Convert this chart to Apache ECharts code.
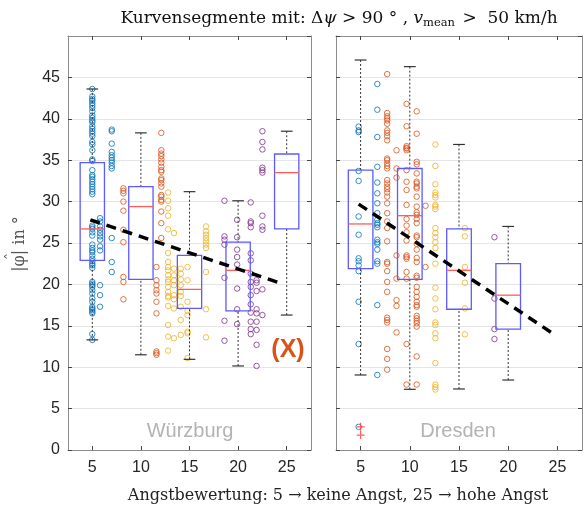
<!DOCTYPE html>
<html>
<head>
<meta charset="utf-8">
<script src="https://cdn.jsdelivr.net/npm/echarts@6/dist/echarts.min.js"></script>
<style>
  html, body { margin: 0; padding: 0; background: #fff; }
  #chart { width: 584px; height: 510px; }
</style>
</head>
<body>
<div id="chart"></div>
<script>
// rating ticks
var ratings = [5, 10, 15, 20, 25];

// Würzburg box statistics (per rating 5..25)
var wLower  = [13.3, 11.5, 10.95, 10.15, 16.3];
var wQ1     = [22.9, 20.6, 17.1, 16.8, 26.7];
var wMedian = [26.7, 29.4, 19.4, 21.7, 33.5];
var wQ3     = [34.7, 31.8, 23.5, 25.1, 35.75];
var wUpper  = [43.6, 38.3, 31.2, 30.1, 38.5];

// Dresden box statistics (per rating 5..20)
var dLower  = [9.06, 7.33, 7.37, 8.45];
var dQ1     = [21.9, 20.6, 17.0, 14.6];
var dMedian = [27.3, 28.3, 21.7, 18.7];
var dQ3     = [33.8, 34.0, 26.7, 22.5];
var dUpper  = [47.1, 46.3, 36.9, 27.0];
var dOutliers = [[5, 2.8], [5, 1.8]];

// trend lines (dashed)
var wTrend = [[4.8, 27.8], [24.5, 20.1]];
var dTrend = [[4.8, 29.7], [24.5, 14.1]];

// single measurements, grouped in columns: [rating, [angles]]
var wBlue = [
  [5, [43.6, 42.7, 42.4, 42.2, 41.9, 41.6, 41.3, 40.9, 40.4, 40.1, 39.8, 39.6, 39.1, 38.8, 38.5, 38.2, 37.9, 37.2, 36.9, 36.2,
       35.1, 34.9, 33.8, 33.2, 33.0, 32.7, 32.4, 32.1, 31.8, 31.5, 31.2, 30.9, 27.1, 26.9, 26.7, 26.3, 25.9, 24.8, 24.4, 24.1,
       23.9, 23.5, 23.1, 22.8, 22.5, 22.3, 22.0, 20.3, 20.1, 19.9, 19.7, 19.3, 18.9, 18.3, 17.9, 17.3, 17.1, 16.9, 16.7, 16.5, 14.0, 13.3]],
  [5.8, [28.0, 27.6, 27.0, 26.6, 26.2, 25.8, 25.4, 24.6, 24.1, 19.9, 18.7, 17.3]],
  [7, [38.7, 38.5, 37.0, 36.0, 35.6, 35.3, 35.0, 34.7, 34.3, 34.0, 25.6, 22.7, 21.5]]
];
var wOrange = [
  [8.2, [31.6, 31.3, 31.0, 30.0, 28.9, 26.6, 25.1, 20.9, 20.3, 18.2]],
  [12.1, [38.3, 36.2, 35.8, 35.5, 35.1, 34.7, 34.2, 33.8, 33.6, 32.8, 32.6, 32.2, 31.8, 30.8, 30.6, 30.2, 30.0, 28.8, 27.4, 25.6]],
  [11.6, [22.1, 20.5, 19.9, 19.3, 18.9, 17.9, 16.5, 11.9, 11.7, 11.5]]
];
var wYellow = [
  [12.8, [31.1, 30.1, 29.2, 28.3, 26.65, 23.8, 22.7, 22.1, 21.7, 21.1, 20.6, 20.3, 19.7, 19.1, 18.6, 18.4, 17.4, 15.1, 13.7, 12.0]],
  [13.4, [26.2, 21.9, 21.1, 20.5, 19.9, 18.7, 18.2, 17.1, 13.5]],
  [14.1, [21.9, 21.3, 20.6, 19.9, 19.1, 18.6, 17.3, 15.7, 13.9]],
  [14.8, [22.1, 20.5, 17.9, 16.8, 16.3, 14.3, 14.1, 11.1]],
  [16.7, [27.0, 26.4, 26.0, 25.6, 25.2, 24.8, 24.4, 21.5, 17.0, 13.6]]
];
var wPurple = [
  [18.6, [30.1, 25.8, 25.4, 24.8, 20.8, 15.6, 13.2]],
  [19.9, [27.8, 25.7, 24.2, 23.3, 22.4, 19.5, 17.0, 15.2]],
  [21.3, [29.9, 27.6, 27.4, 26.9, 23.75, 22.9, 21.3, 20.3, 19.7, 18.7, 17.6, 16.6, 15.5, 14.6, 14.0]],
  [21.9, [20.5, 20.2, 19.2, 17.0, 16.5, 15.5, 14.5, 12.7, 10.15]],
  [22.5, [38.5, 37.2, 36.3, 34.1, 33.8, 33.5, 28.3, 27.0, 26.6, 19.4, 16.3]]
];

var dBlue = [
  [4.8, [39.05, 38.6, 38.4, 33.7, 32.5, 28.2, 26.0, 23.15, 22.8, 22.3, 21.6, 17.9, 12.8, 2.8]],
  [6.7, [44.2, 41.1, 37.8, 34.2, 32.3, 31.0, 29.8, 28.6, 27.8, 27.4, 27.2, 26.9, 25.4, 25.1, 24.9, 24.2, 22.8, 22.5, 17.5, 9.06]]
];
var dOrange = [
  [7.7, [45.4, 40.7, 40.3, 40.05, 39.8, 39.4, 38.6, 38.3, 37.9, 37.4, 35.2, 35.0, 34.6, 34.3, 34.0, 32.6, 32.2, 31.8, 31.5, 31.1,
         30.6, 29.8, 28.6, 27.6, 26.8, 25.2, 22.7, 22.5, 21.6, 20.3, 19.1, 15.98, 15.7, 15.4, 12.2, 11.0, 9.7]],
  [8.65, [36.2, 34.0, 32.9, 23.5, 20.7, 18.1, 17.4, 14.2]],
  [9.67, [41.8, 39.1, 36.7, 36.5, 36.4, 36.2, 33.8, 32.4, 31.4, 29.6, 27.9, 27.1, 26.3, 25.3, 23.5, 23.3, 23.1, 21.5, 20.7, 12.8, 7.9]],
  [10.7, [40.9, 38.2, 34.8, 34.5, 33.4, 32.4, 32.2, 31.8, 31.6, 30.6, 29.4, 28.7, 28.4, 27.9, 27.4, 25.9, 25.7, 24.9, 24.2, 23.2,
          22.7, 21.05, 20.8, 19.7, 19.1, 18.5, 17.9, 17.5, 17.3, 16.2, 15.9, 15.6, 15.3, 14.9, 11.3, 7.9]],
  [11.6, [29.5, 22.1]]
];
var dYellow = [
  [12.6, [36.9, 34.3, 32.1, 31.1, 30.8, 30.5, 29.6, 29.4, 29.1, 26.8, 26.2, 25.7, 25.1, 24.4, 22.5, 19.6, 18.3, 17.0, 15.4, 15.1,
          14.1, 13.5, 10.5, 7.9, 7.6, 7.3]],
  [15.6, [26.8, 25.8, 22.1, 20.2, 17.1, 13.97]]
];
var dPurple = [
  [18.6, [25.7, 18.3, 14.6, 13.4]]
];

var C_BLUE = '#0072BD', C_ORANGE = '#D95319', C_YELLOW = '#EDB120', C_PURPLE = '#7E2F8E';
var FRAME = '#8c8c8c';
var SERIF = 'DejaVu Serif';

function flatten(cols) {
  var out = [];
  cols.forEach(function (c) {
    c[1].forEach(function (v) { out.push([c[0], v]); });
  });
  return out;
}

function boxData(lo, q1, med, q3, up) {
  return lo.map(function (v, i) { return [ratings[i], lo[i], q1[i], med[i], q3[i], up[i]]; });
}

var HALF_BOX = 1.25, HALF_CAP = 0.6;

function renderBox(params, api) {
  var x = api.value(0);
  var lo = api.value(1), q1 = api.value(2), md = api.value(3), q3 = api.value(4), up = api.value(5);
  var tl = api.coord([x - HALF_BOX, q3]);
  var br = api.coord([x + HALF_BOX, q1]);
  var mL = api.coord([x - HALF_BOX, md]), mR = api.coord([x + HALF_BOX, md]);
  var wTop = api.coord([x, up]), wQ3 = api.coord([x, q3]);
  var wBot = api.coord([x, lo]), wQ1 = api.coord([x, q1]);
  var cTL = api.coord([x - HALF_CAP, up]), cTR = api.coord([x + HALF_CAP, up]);
  var cBL = api.coord([x - HALF_CAP, lo]), cBR = api.coord([x + HALF_CAP, lo]);
  var dotted = { stroke: '#333', lineWidth: 1, lineDash: [2, 2] };
  var cap = { stroke: '#333', lineWidth: 1.2 };
  return {
    type: 'group',
    children: [
      { type: 'line', shape: { x1: wTop[0], y1: wTop[1], x2: wQ3[0], y2: wQ3[1] }, style: dotted },
      { type: 'line', shape: { x1: wBot[0], y1: wBot[1], x2: wQ1[0], y2: wQ1[1] }, style: dotted },
      { type: 'line', shape: { x1: cTL[0], y1: cTL[1], x2: cTR[0], y2: cTR[1] }, style: cap },
      { type: 'line', shape: { x1: cBL[0], y1: cBL[1], x2: cBR[0], y2: cBR[1] }, style: cap },
      { type: 'rect', shape: { x: tl[0], y: tl[1], width: br[0] - tl[0], height: br[1] - tl[1] },
        style: { fill: 'none', stroke: '#5b5bff', lineWidth: 1.3 } },
      { type: 'line', shape: { x1: mL[0], y1: mL[1], x2: mR[0], y2: mR[1] }, style: { stroke: '#ff5c5c', lineWidth: 1.3 } }
    ]
  };
}

function scatter(cols, color, xi, yi) {
  return {
    type: 'scatter', xAxisIndex: xi, yAxisIndex: yi, data: flatten(cols),
    symbol: 'circle', symbolSize: 5.5, z: 2, silent: true,
    itemStyle: { color: 'rgba(255,255,255,0)', borderColor: color, borderWidth: 1, opacity: 0.8 }
  };
}

function xAxes(gi, top) {
  return {
    type: 'value', gridIndex: gi, min: 2.5, max: 27.5, position: top ? 'top' : 'bottom',
    axisLine: { show: true, onZero: false, lineStyle: { color: FRAME } },
    axisTick: { show: true, inside: true, length: 4, customValues: ratings, lineStyle: { color: '#444' } },
    axisLabel: { show: !top, customValues: ratings, color: '#262626', fontSize: 16, fontFamily: 'Liberation Sans', margin: 10 },
    splitLine: { show: false }
  };
}

function yAxes(gi, right, labels) {
  return {
    type: 'value', gridIndex: gi, min: 0, max: 50, interval: 5, position: right ? 'right' : 'left',
    axisLine: { show: true, onZero: false, lineStyle: { color: FRAME } },
    axisTick: { show: true, inside: true, length: 4, lineStyle: { color: '#444' } },
    axisLabel: { show: labels, showMaxLabel: false, color: '#262626', fontSize: 16, fontFamily: 'Liberation Sans', margin: 8 },
    splitLine: { show: !right, lineStyle: { color: '#e5e5e5', width: 1 } }
  };
}

var chart = echarts.init(document.getElementById('chart'));
var option = {
  animation: false,
  title: {
    left: 334, top: 4, textAlign: 'center',
    text: '{r|Kurvensegmente mit: Δ}{i|ψ}{r| > 90 ° , }{i|v}{s|mean}{r| >  50 km/h}',
    textStyle: {
      fontWeight: 'normal',
      rich: {
        r: { fontFamily: SERIF, fontSize: 17, fontWeight: 'normal', color: '#111' },
        i: { fontFamily: SERIF, fontStyle: 'italic', fontSize: 17, fontWeight: 'normal', color: '#111' },
        s: { fontFamily: SERIF, fontSize: 11.5, fontWeight: 'normal', color: '#111', padding: [8, 2, 0, 0] }
      }
    }
  },
  grid: [
    { left: 68, top: 36, width: 243, height: 414 },
    { left: 336, top: 36, width: 246, height: 414 }
  ],
  xAxis: [xAxes(0, false), xAxes(0, true), xAxes(1, false), xAxes(1, true)],
  yAxis: [yAxes(0, false, true), yAxes(0, true, false), yAxes(1, false, false), yAxes(1, true, false)],
  graphic: [
    { type: 'group', x: 20, y: 244, rotation: Math.PI / 2, children: [
      { type: 'text', x: 0, y: 0,
        style: { text: '|φ| in °', fontFamily: SERIF, fontSize: 16, fill: '#555', align: 'center', verticalAlign: 'middle' } },
      { type: 'text', x: -12.5, y: -8,
        style: { text: 'ˆ', fontFamily: SERIF, fontSize: 14, fill: '#555', align: 'center', verticalAlign: 'middle' } }
    ] },
    { type: 'text', x: 338, y: 496,
      style: { text: 'Angstbewertung: 5 → keine Angst, 25 → hohe Angst', fontFamily: SERIF, fontSize: 16, fill: '#222', align: 'center', verticalAlign: 'middle' } },
    { type: 'text', x: 190, y: 431,
      style: { text: 'Würzburg', fontFamily: 'Liberation Sans', fontSize: 20, fill: '#b3b3b3', align: 'center', verticalAlign: 'middle' } },
    { type: 'text', x: 458, y: 431,
      style: { text: 'Dresden', fontFamily: 'Liberation Sans', fontSize: 20, fill: '#b3b3b3', align: 'center', verticalAlign: 'middle' } },
    { type: 'text', x: 288, y: 350,
      style: { text: '(X)', fontFamily: 'Liberation Sans', fontWeight: 'bold', fontSize: 25, fill: C_ORANGE, align: 'center', verticalAlign: 'middle' } }
  ],
  series: [
    scatter(wBlue, C_BLUE, 0, 0),
    scatter(wOrange, C_ORANGE, 0, 0),
    scatter(wYellow, C_YELLOW, 0, 0),
    scatter(wPurple, C_PURPLE, 0, 0),
    scatter(dBlue, C_BLUE, 2, 2),
    scatter(dOrange, C_ORANGE, 2, 2),
    scatter(dYellow, C_YELLOW, 2, 2),
    scatter(dPurple, C_PURPLE, 2, 2),
    { type: 'custom', xAxisIndex: 0, yAxisIndex: 0, z: 3, renderItem: renderBox,
      encode: { x: 0, y: [1, 2, 3, 4, 5] }, data: boxData(wLower, wQ1, wMedian, wQ3, wUpper) },
    { type: 'custom', xAxisIndex: 2, yAxisIndex: 2, z: 3, renderItem: renderBox,
      encode: { x: 0, y: [1, 2, 3, 4, 5] }, data: boxData(dLower, dQ1, dMedian, dQ3, dUpper) },
    { type: 'scatter', xAxisIndex: 2, yAxisIndex: 2, z: 4, data: dOutliers,
      symbol: 'path://M0,5L10,5M5,0L5,10', symbolSize: 8,
      itemStyle: { color: 'none', borderColor: '#ff3b3b', borderWidth: 1.2 } },
    { type: 'line', xAxisIndex: 0, yAxisIndex: 0, z: 5, data: wTrend, symbol: 'none',
      lineStyle: { color: '#000', width: 3.5, type: [10, 7] } },
    { type: 'line', xAxisIndex: 2, yAxisIndex: 2, z: 5, data: dTrend, symbol: 'none',
      lineStyle: { color: '#000', width: 3.5, type: [10, 7] } }
  ]
};
chart.setOption(option);
</script>
</body>
</html>
